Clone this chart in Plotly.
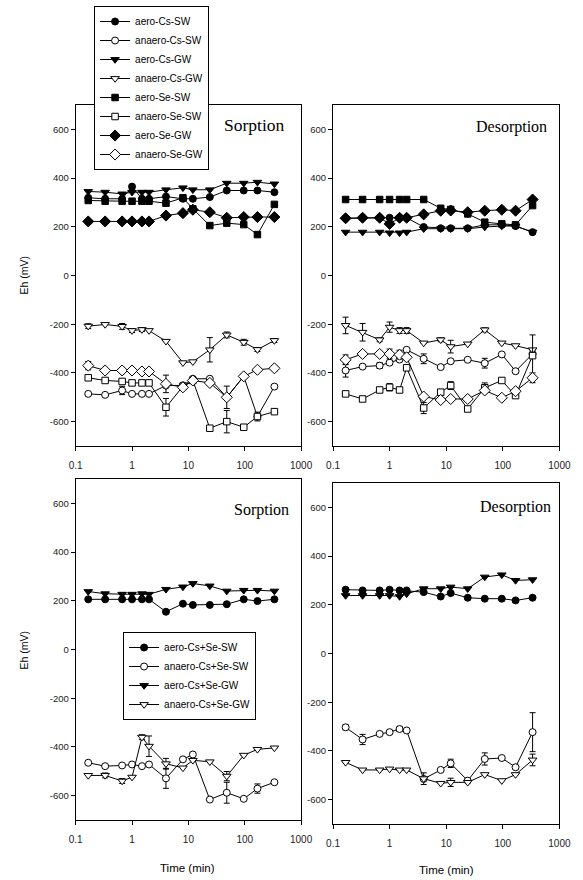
import plotly.graph_objects as go

# ---------------- data ----------------
t = [0.167, 0.333, 0.667, 1, 1.5, 2, 4, 8, 12, 24, 48, 96, 168, 336]
x_ticks = [0.1, 1, 10, 100, 1000]
x_ticktext = ["0.1", "1", "10", "100", "1000"]
y_ticks = [-600, -400, -200, 0, 200, 400, 600]
y_ticktext = ["-600", "-400", "-200", "0", "200", "400", "600"]

names_top = ["aero-Cs-SW", "anaero-Cs-SW", "aero-Cs-GW", "anaero-Cs-GW",
             "aero-Se-SW", "anaero-Se-SW", "aero-Se-GW", "anaero-Se-GW"]
names_bot = ["aero-Cs+Se-SW", "anaero-Cs+Se-SW", "aero-Cs+Se-GW", "anaero-Cs+Se-GW"]

# Top-left: Sorption (single elements)
s_aero_Cs_SW = [319, 315, 315, 365, 315, 315, 324, 315, 315, 322, 349, 349, 349, 342]
s_anaero_Cs_SW = [-486, -490, -472, -486, -486, -486, -452, -451, -424, -424, -500, -414, -579, -456]
s_aero_Cs_GW = [345, 342, 335, 342, 342, 342, 352, 360, 352, 352, 379, 379, 383, 376]
s_anaero_Cs_GW = [-208, -201, -209, -226, -222, -226, -270, -358, -354, -305, -244, -274, -304, -267]
s_aero_Se_SW = [308, 305, 305, 305, 305, 305, 297, 319, 274, 205, 215, 209, 168, 292]
s_anaero_Se_SW = [-420, -431, -435, -441, -441, -441, -541, -455, -431, -627, -600, -623, -579, -559]
s_aero_Se_GW = [222, 222, 222, 222, 222, 222, 246, 256, 270, 260, 237, 240, 240, 240]
s_anaero_Se_GW = [-370, -390, -390, -390, -394, -394, -445, -459, -431, -441, -500, -414, -387, -381]

s_err_anaero_Cs_SW = [None, None, 17, None, None, None, None, None, None, None, 46, None, None, None]
s_err_anaero_Cs_GW = [10, None, 12, 8, 8, None, None, None, None, 50, 12, 12, 8, 8]
s_err_anaero_Se_SW = [None, None, None, None, None, None, 36, None, None, None, 46, None, 18, None]
s_err_anaero_Se_GW = [17, None, None, None, None, None, 36, None, None, None, None, None, None, 10]

# Top-right: Desorption (single elements)
d_aero_Cs_SW = [235, 237, 237, 237, 237, 237, 199, 194, 194, 194, 208, 208, 203, 178]
d_anaero_Cs_SW = [-390, -374, -370, -358, -345, -305, -342, -376, -352, -346, -360, -324, -393, -322]
d_aero_Cs_GW = [178, 178, 178, 175, 175, 178, 192, 192, 192, 192, 199, 203, 203, 178]
d_anaero_Cs_GW = [-205, -233, -264, -212, -226, -226, -277, -264, -292, -281, -223, -277, -288, -305]
d_aero_Se_SW = [312, 312, 312, 312, 312, 312, 312, 276, 271, 253, 219, 212, 208, 287]
d_anaero_Se_SW = [-486, -507, -470, -459, -470, -379, -544, -479, -452, -548, -461, -431, -493, -329]
d_aero_Se_GW = [235, 237, 237, 212, 237, 237, 251, 266, 267, 260, 266, 270, 266, 312]
d_anaero_Se_GW = [-346, -322, -322, -322, -325, -336, -497, -511, -507, -507, -472, -502, -475, -420]

d_err_anaero_Cs_SW = [27, None, 12, None, None, None, 20, None, None, None, 20, None, None, None]
d_err_anaero_Cs_GW = [34, 36, 8, 21, 12, 12, None, 8, 26, None, 8, None, None, None]
d_err_anaero_Se_SW = [None, None, None, 15, None, None, 23, None, 16, None, 20, None, None, 85]
d_err_anaero_Se_GW = [20, None, None, 20, 18, None, None, None, None, None, None, None, None, 20]

# Bottom-left: Sorption (Cs+Se)
sb_aero_SW = [206, 206, 206, 206, 206, 206, 155, 188, 183, 183, 186, 206, 199, 206]
sb_anaero_SW = [-465, -479, -476, -472, -479, -472, -529, -451, -431, -616, -588, -613, -571, -545]
sb_aero_GW = [238, 229, 227, 227, 229, 227, 247, 257, 271, 261, 240, 243, 243, 240]
sb_anaero_GW = [-517, -517, -540, -524, -360, -397, -469, -486, -455, -461, -520, -434, -410, -404]
sb_err_anaero_SW = [None, None, None, None, None, None, 41, None, 8, None, 43, None, 19, None]
sb_err_anaero_GW = [None, 10, 10, None, 10, 42, 22, None, None, None, 19, None, None, None]

# Bottom-right: Desorption (Cs+Se)
db_aero_SW = [262, 259, 259, 262, 259, 259, 252, 234, 248, 229, 225, 225, 218, 229]
db_anaero_SW = [-303, -353, -330, -323, -310, -316, -515, -478, -451, -522, -433, -429, -467, -323]
db_aero_GW = [238, 238, 238, 238, 234, 245, 266, 266, 273, 266, 314, 323, 300, 303]
db_anaero_GW = [-447, -478, -478, -474, -478, -478, -514, -533, -529, -529, -497, -522, -497, -437]
db_err_anaero_SW = [10, 21, None, None, 10, None, None, None, 17, None, 25, None, None, 80]
db_err_anaero_GW = [None, None, None, None, None, None, 24, None, 17, None, None, None, None, 24]

# ---------------- styling ----------------
styles_top = [("circle", True), ("circle", False), ("triangle-down", True), ("triangle-down", False),
              ("square", True), ("square", False), ("diamond", True), ("diamond", False)]
styles_bot = [("circle", True), ("circle", False), ("triangle-down", True), ("triangle-down", False)]
sizes = {"circle": 7, "square": 6.5, "triangle-down": 7.5, "diamond": 8.5}

FONT = "Liberation Sans, Arial, sans-serif"
SERIF = "Liberation Serif, Times New Roman, serif"

fig = go.Figure()


def add(y, err, name, style, ax, legend, showlegend):
    sym, filled = style
    fig.add_trace(go.Scatter(
        x=t, y=y, mode="lines+markers", name=name,
        xaxis="x" + ax, yaxis="y" + ax,
        legend=legend, legendgroup=legend + name, showlegend=showlegend,
        line=dict(color="black", width=1),
        marker=dict(symbol=sym, size=sizes[sym], color="black" if filled else "white",
                    line=dict(color="black", width=1)),
        error_y=dict(type="data", array=err, visible=err is not None,
                     color="black", thickness=1, width=3),
    ))


top_s = [s_aero_Cs_SW, s_anaero_Cs_SW, s_aero_Cs_GW, s_anaero_Cs_GW,
         s_aero_Se_SW, s_anaero_Se_SW, s_aero_Se_GW, s_anaero_Se_GW]
top_s_err = [None, s_err_anaero_Cs_SW, None, s_err_anaero_Cs_GW,
             None, s_err_anaero_Se_SW, None, s_err_anaero_Se_GW]
top_d = [d_aero_Cs_SW, d_anaero_Cs_SW, d_aero_Cs_GW, d_anaero_Cs_GW,
         d_aero_Se_SW, d_anaero_Se_SW, d_aero_Se_GW, d_anaero_Se_GW]
top_d_err = [None, d_err_anaero_Cs_SW, None, d_err_anaero_Cs_GW,
             None, d_err_anaero_Se_SW, None, d_err_anaero_Se_GW]
bot_s = [sb_aero_SW, sb_anaero_SW, sb_aero_GW, sb_anaero_GW]
bot_s_err = [None, sb_err_anaero_SW, None, sb_err_anaero_GW]
bot_d = [db_aero_SW, db_anaero_SW, db_aero_GW, db_anaero_GW]
bot_d_err = [None, db_err_anaero_SW, None, db_err_anaero_GW]

for i in range(8):
    add(top_s[i], top_s_err[i], names_top[i], styles_top[i], "", "legend", True)
for i in range(8):
    add(top_d[i], top_d_err[i], names_top[i], styles_top[i], "2", "legend", False)
for i in range(4):
    add(bot_s[i], bot_s_err[i], names_bot[i], styles_bot[i], "3", "legend2", True)
for i in range(4):
    add(bot_d[i], bot_d_err[i], names_bot[i], styles_bot[i], "4", "legend2", False)

W, H = 583, 880


def xdom(a, b):
    return [a / W, b / W]


def ydom(top, bot):
    return [1 - bot / H, 1 - top / H]


def xaxis(dom, anchor):
    return dict(domain=dom, anchor=anchor, type="log", range=[-1, 3],
                tickvals=x_ticks, ticktext=x_ticktext, ticks="outside", ticklen=4,
                tickwidth=1, tickcolor="black", showline=True, linecolor="black",
                linewidth=1, mirror=True, showgrid=False, zeroline=False,
                tickfont=dict(family=FONT, size=10, color="#222"), ticklabelstandoff=6)


def yaxis(dom, anchor):
    return dict(domain=dom, anchor=anchor, range=[-700, 700], tickvals=y_ticks,
                ticktext=y_ticktext,
                ticks="outside", ticklen=4, tickwidth=1, tickcolor="black",
                showline=True, linecolor="black", linewidth=1, mirror=True,
                showgrid=False, zeroline=False,
                tickfont=dict(family=FONT, size=9.5, color="#222"))


fig.update_layout(
    width=W, height=H, margin=dict(l=0, r=0, t=0, b=0),
    paper_bgcolor="white", plot_bgcolor="white", showlegend=True,
    xaxis=xaxis(xdom(71, 304), "y"), yaxis=yaxis(ydom(105, 446), "x"),
    xaxis2=xaxis(xdom(337, 571), "y2"), yaxis2=yaxis(ydom(105, 446), "x2"),
    xaxis3=xaxis(xdom(71, 304), "y3"), yaxis3=yaxis(ydom(479, 820), "x3"),
    xaxis4=xaxis(xdom(337, 571), "y4"), yaxis4=yaxis(ydom(483, 824), "x4"),
    legend=dict(x=90 / W, y=1 - 6 / H, xanchor="left", yanchor="top",
                bgcolor="white", bordercolor="black", borderwidth=1,
                font=dict(family=FONT, size=10, color="black"),
                tracegroupgap=0, itemwidth=30),
    legend2=dict(x=120 / W, y=1 - 632 / H, xanchor="left", yanchor="top",
                 bgcolor="white", bordercolor="black", borderwidth=1,
                 font=dict(family=FONT, size=10, color="black"),
                 tracegroupgap=0, itemwidth=30),
)

ann = [
    dict(text="Sorption", x=256 / W, y=1 - 125 / H, font=dict(family=SERIF, size=17.5)),
    dict(text="Desorption", x=522 / W, y=1 - 127 / H, font=dict(family=SERIF, size=16)),
    dict(text="Sorption", x=263 / W, y=1 - 510 / H, font=dict(family=SERIF, size=16)),
    dict(text="Desorption", x=526 / W, y=1 - 507 / H, font=dict(family=SERIF, size=16)),
    dict(text="Eh (mV)", x=18 / W, y=1 - 275 / H, textangle=-90, font=dict(family=FONT, size=10.5)),
    dict(text="Eh (mV)", x=18 / W, y=1 - 650 / H, textangle=-90, font=dict(family=FONT, size=10.5)),
    dict(text="Time (min)", x=187 / W, y=1 - 868 / H, font=dict(family=FONT, size=11.5)),
    dict(text="Time (min)", x=454 / W, y=1 - 870 / H, font=dict(family=FONT, size=11.5)),
]
for a in ann:
    a.setdefault("font", {})
    a["font"].setdefault("color", "black")
    fig.add_annotation(xref="paper", yref="paper", showarrow=False,
                       xanchor="center", yanchor="middle", **a)

fig.write_html("out.html")
